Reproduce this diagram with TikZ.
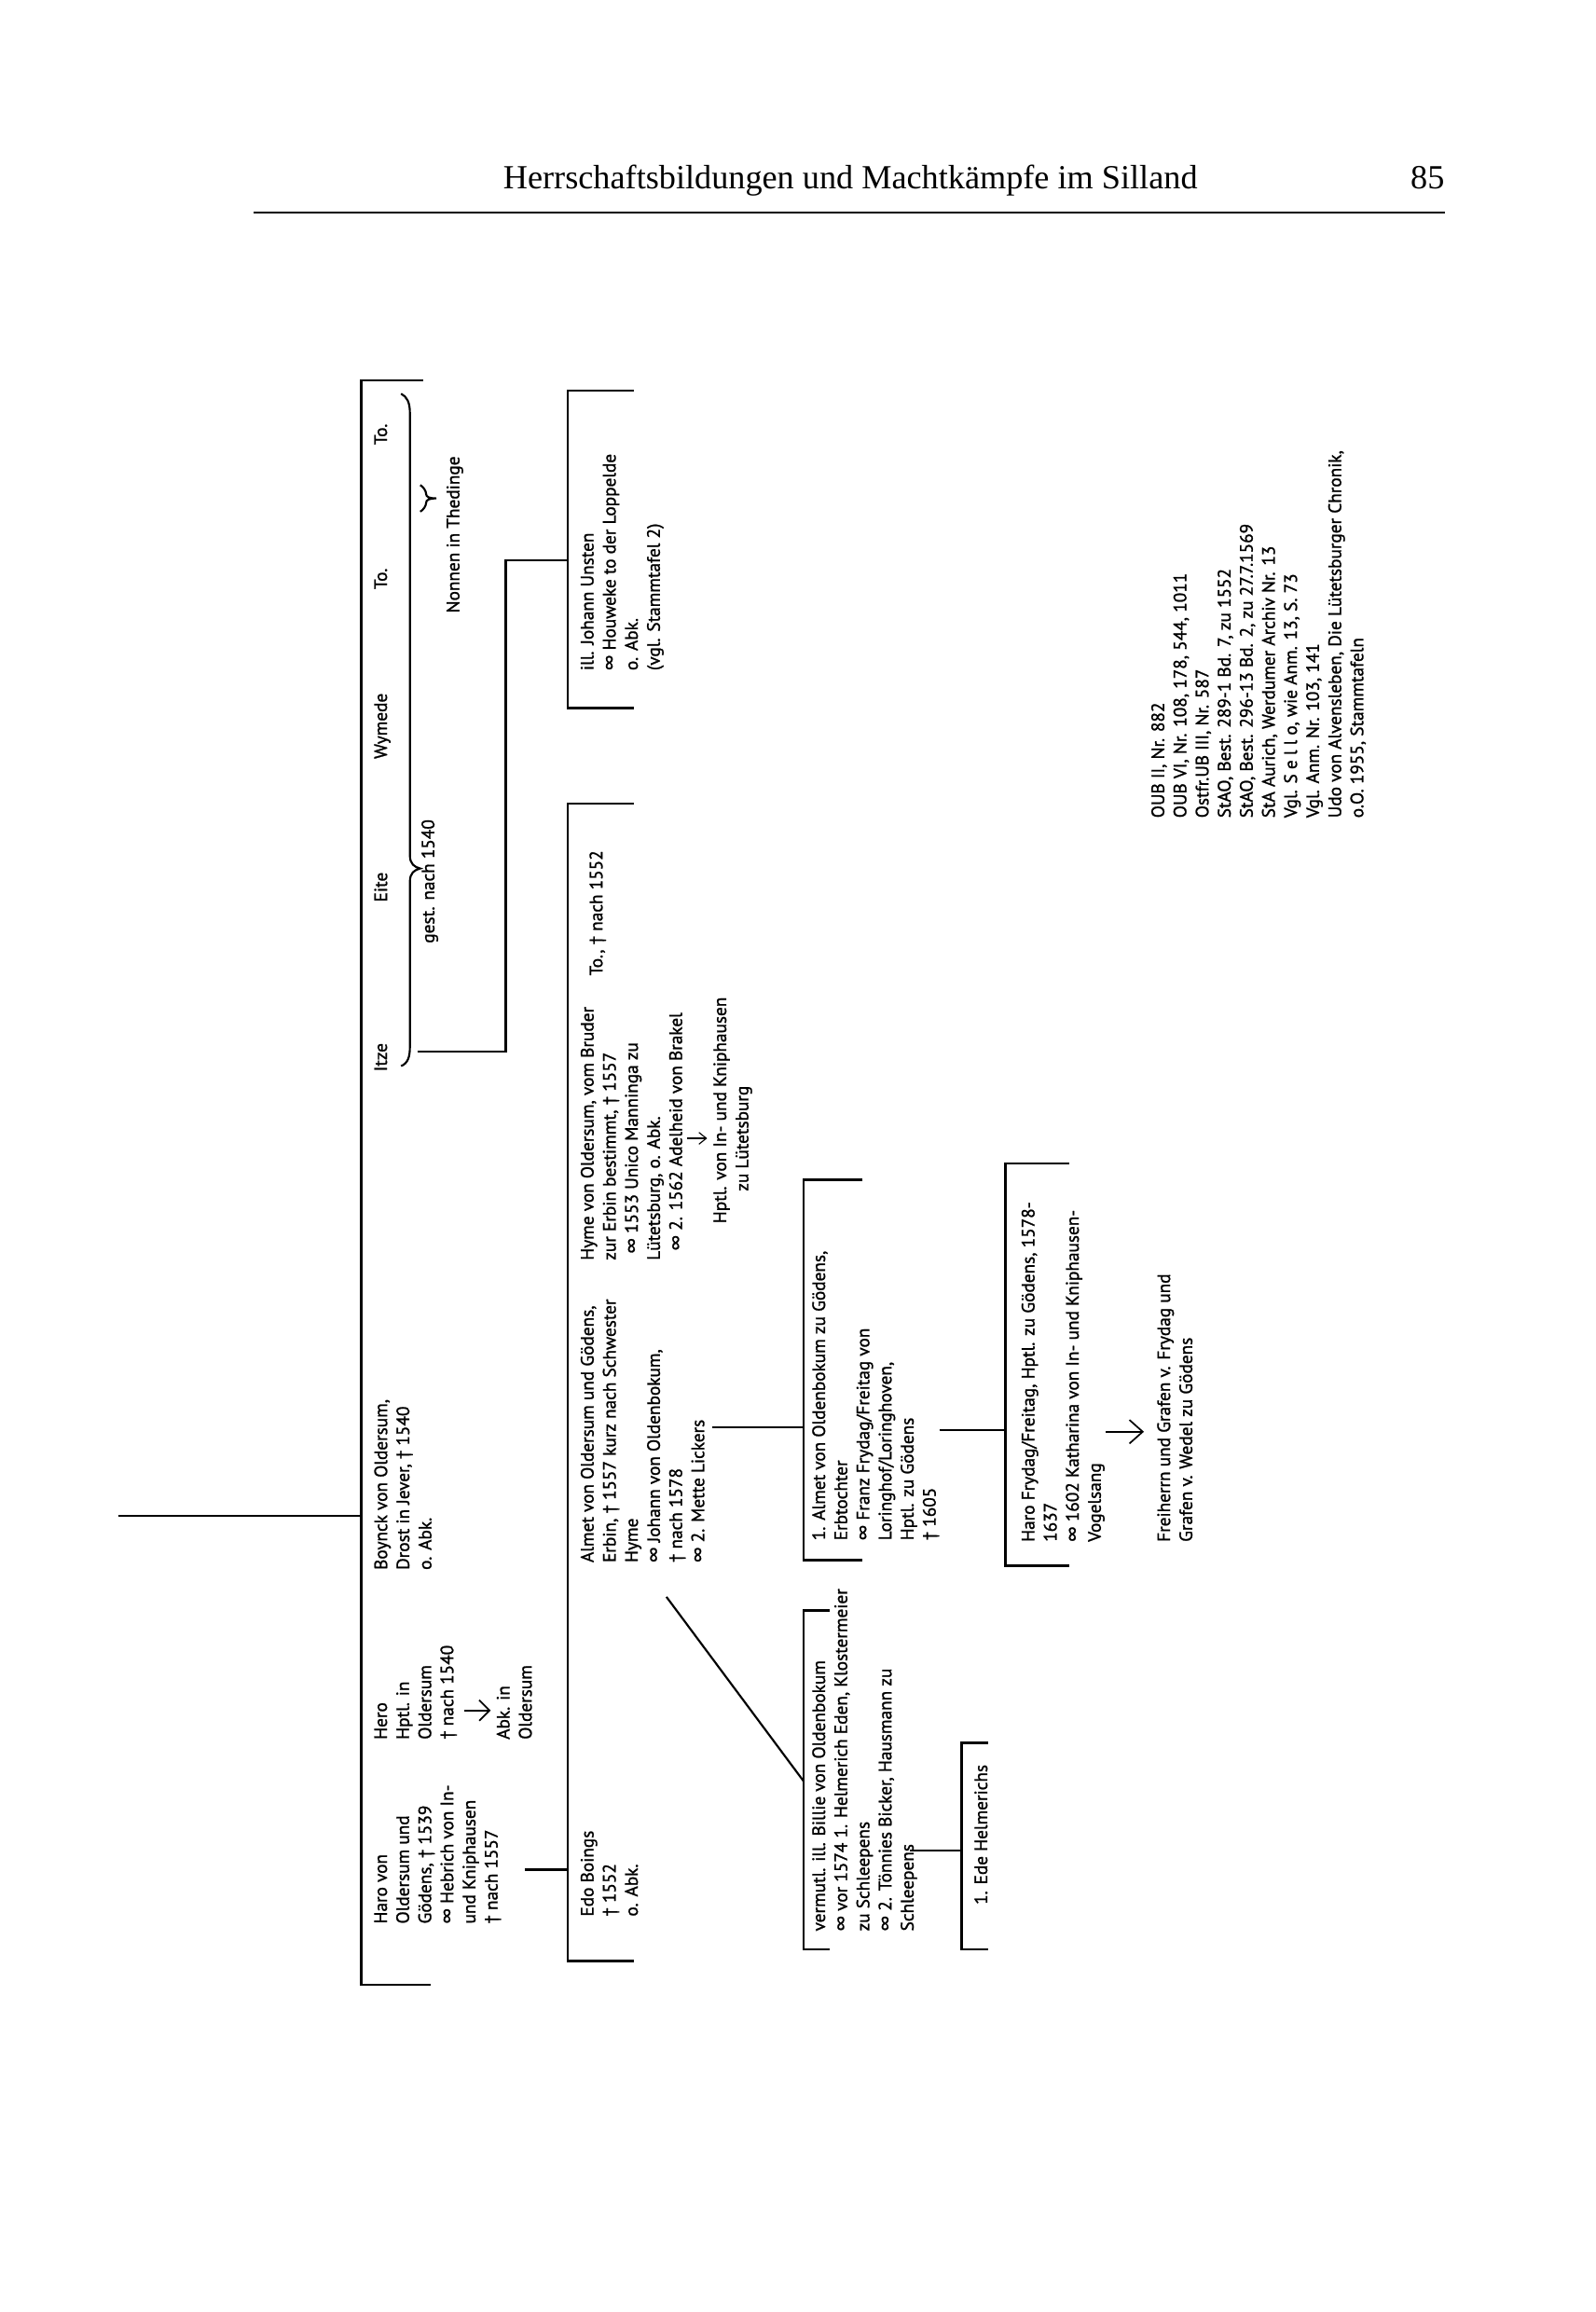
\documentclass[tikz,border=0pt]{standalone}
\usepackage{fontspec}
\setmainfont{PT Sans}[FakeBold=1.2]
\newfontfamily\headfont{Liberation Serif}
\begin{document}
\begin{tikzpicture}[x=0.55pt,y=-0.55pt,
  txt/.style={rotate=90, anchor=north west, align=left, inner sep=0pt, font=\fontsize{6.7}{8.25}\selectfont},
  ln/.style={line width=0.75pt},
  brk/.style={line width=0.95pt},
  arr/.style={line width=0.6pt}]
\useasboundingbox (0,0) rectangle (1082,1568);
% header
\node[anchor=base west, inner sep=0pt] (title) at (341,128) {\headfont\fontsize{12.6}{14}\selectfont Herrschaftsbildungen und Machtkämpfe im Silland};
\node[anchor=base east, inner sep=0pt] (page) at (980,128) {\headfont\fontsize{12.6}{14}\selectfont 85};
\draw[line width=0.7pt] (172,144) -- (980,144);

% main bracket
\draw[brk] (287,258) -- (245,258) -- (245,1346) -- (292,1346);
\coordinate (in) at (80,1028);
\coordinate (inb) at (245,1028);
\draw[ln] (in) -- (inb);

% generation 1
\node[txt] (haro) at (253.5,1305) {Haro von\\Oldersum und\\Gödens, † 1539\\∞ Hebrich von In-\\und Kniphausen\\† nach 1557};
\node[txt] (hero) at (253.5,1180) {Hero\\Hptl. in\\Oldersum\\† nach 1540};
\node[txt] (abk) at (336.5,1180) {Abk. in\\Oldersum};
\draw[arr] (315,1160) -- (332,1160);
\draw[arr] (325,1153) -- (332,1160) -- (325,1167);
\node[txt] (boynck) at (253.5,1065) {Boynck von Oldersum,\\Drost in Jever, † 1540\\o. Abk.};
\node[txt] (itze) at (253.5,727) {Itze};
\node[txt] (eite) at (253.5,612) {Eite};
\node[txt] (wymede) at (253.5,515) {Wymede};
\node[txt] (toa) at (253.5,400) {To.};
\node[txt] (tob) at (253.5,302) {To.};
\node[txt] (gest) at (285.5,640) {gest. nach 1540};
\node[txt] (nonnen) at (302.5,416) {Nonnen in Thedinge};
% brace
\draw[ln] (272,723) .. controls (277,721) and (278,716) .. (278,710)
  -- (278,598) .. controls (278,592) and (281,590) .. (285,589)
  .. controls (281,588) and (278,586) .. (278,580)
  -- (278,280) .. controls (278,273) and (276,269) .. (272,267);
\draw[ln] (285,347) .. controls (287,346) and (289,343) .. (289,341)
  .. controls (289,339) and (291,338) .. (296,338)
  .. controls (291,338) and (289,337) .. (289,335)
  .. controls (289,333) and (287,330) .. (285,329);

% connector Itze -> Unsten
\draw[ln] (283,713) -- (343,713) -- (343,380) -- (385,380);
\draw[brk] (430,265) -- (385,265) -- (385,480) -- (430,480);
\node[txt] (unsten) at (393.5,455) {ill. Johann Unsten\\∞ Houweke to der Loppelde\\o. Abk.\\(vgl. Stammtafel 2)};

% generation 2
\draw[ln] (356,1268) -- (385,1268);
\draw[brk] (430,545) -- (385,545) -- (385,1330) -- (430,1330);
\node[txt] (edo) at (393.5,1300) {Edo Boings\\† 1552\\o. Abk.};
\node[txt] (almet) at (393.5,1060) {Almet von Oldersum und Gödens,\\Erbin, † 1557 kurz nach Schwester\\Hyme\\∞ Johann von Oldenbokum,\\† nach 1578\\∞ 2. Mette Lickers};
\node[txt] (hyme) at (393.5,855) {Hyme von Oldersum, vom Bruder\\zur Erbin bestimmt, † 1557\\\hspace{2.5pt}∞ 1553 Unico Manninga zu\\Lütetsburg, o. Abk.\\\hspace{3.6pt}∞ 2. 1562 Adelheid von Brakel};
\draw[line width=0.4pt] (466,772) -- (479,772);
\draw[line width=0.4pt] (474,768) -- (479,772) -- (474,776);
\node[txt] (hptl) at (483.5,830) {Hptl. von In- und Kniphausen\\\hspace{12pt}zu Lütetsburg};
\node[txt] (to552) at (399.5,662) {To., † nach 1552};

% generation 3
\draw[ln] (452,1083) -- (545,1208);
\draw[ln] (483,968) -- (545,968);
\draw[brk] (585,800) -- (545,800) -- (545,1058) -- (585,1058);
\node[txt] (oldenb) at (550.5,1045) {1. Almet von Oldenbokum zu Gödens,\\Erbtochter\\∞ Franz Frydag/Freitag von\\Loringhof/Loringhoven,\\Hptl. zu Gödens\\† 1605};
\draw[brk] (563,1092) -- (545,1092) -- (545,1322) -- (563,1322);
\node[txt] (billie) at (550.5,1310) {vermutl. ill. Billie von Oldenbokum\\∞ vor 1574 1. Helmerich Eden, Klostermeier\\zu Schleepens\\∞ 2. Tönnies Bicker, Hausmann zu\\Schleepens};

% generation 4
\draw[ln] (617,1255) -- (652,1255);
\draw[brk] (670,1182) -- (652,1182) -- (652,1322) -- (670,1322);
\node[txt] (ede) at (660.5,1292) {1. Ede Helmerichs};
\draw[ln] (637,970) -- (682,970);
\draw[brk] (725,789) -- (682,789) -- (682,1062) -- (725,1062);
\node[txt] (harofr) at (692.5,1046) {Haro Frydag/Freitag, Hptl. zu Gödens, 1578-\\1637\\∞ 1602 Katharina von In- und Kniphausen-\\Vogelsang};
\draw[arr] (750,971) -- (775,971);
\draw[arr] (766,963) -- (775,971) -- (766,979);
\node[txt] (freih) at (784.5,1046) {Freiherrn und Grafen v. Frydag und\\Grafen v. Wedel zu Gödens};

% sources
\node[txt] (src) at (780.5,555) {OUB II, Nr. 882\\OUB VI, Nr. 108, 178, 544, 1011\\Ostfr.UB III, Nr. 587\\StAO, Best. 289-1 Bd. 7, zu 1552\\StAO, Best. 296-13 Bd. 2, zu 27.7.1569\\StA Aurich, Werdumer Archiv Nr. 13\\Vgl. S e l l o, wie Anm. 13, S. 73\\Vgl. Anm. Nr. 103, 141\\Udo von Alvensleben, Die Lütetsburger Chronik,\\o.O. 1955, Stammtafeln};
\end{tikzpicture}
\end{document}
